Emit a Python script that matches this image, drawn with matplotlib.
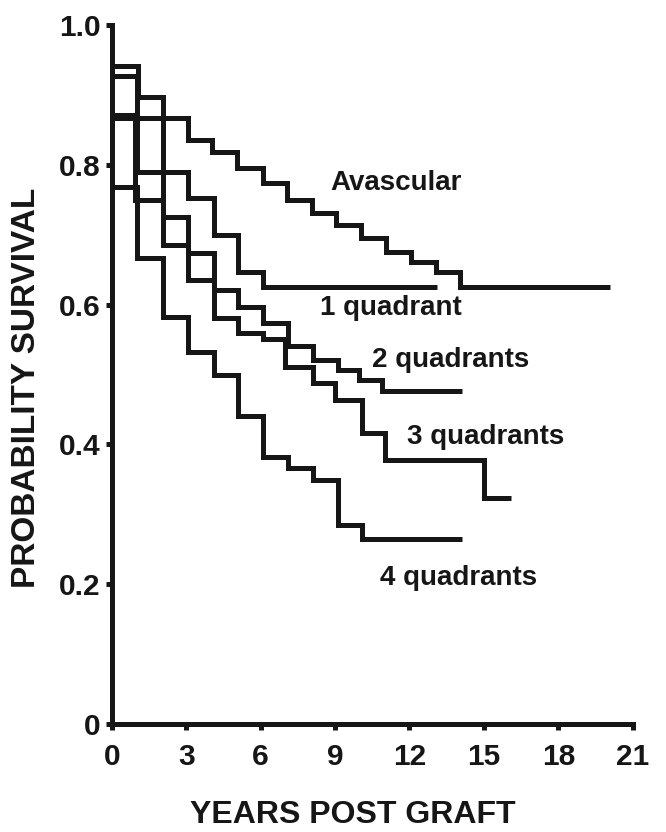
import matplotlib.pyplot as plt

plt.rcParams['font.family'] = ['Liberation Sans', 'DejaVu Sans']
plt.rcParams['font.weight'] = 'bold'

INK = '#161616'

# step curves: times of each drop (first point is the start at t=0) and survival after it
avascular_t = [0, 0, 1.05, 2.05, 3.05, 4.05, 5.05, 6.1, 7.05, 8.05, 9.05, 10.05, 11.05, 12.05, 13.05, 14.05, 20.1]
avascular_p = [1.0, 0.941, 0.897, 0.867, 0.836, 0.818, 0.795, 0.774, 0.75, 0.731, 0.714, 0.695, 0.675, 0.661, 0.647, 0.625, 0.625]

q1_t = [0, 0, 1.0, 3.05, 4.1, 5.1, 6.1, 13.1]
q1_p = [1.0, 0.927, 0.79, 0.752, 0.70, 0.647, 0.625, 0.625]

q2_t = [0, 0, 2.05, 3.05, 4.1, 5.1, 6.1, 7.1, 8.1, 9.1, 9.95, 10.9, 14.1]
q2_p = [1.0, 0.867, 0.725, 0.674, 0.621, 0.597, 0.573, 0.54, 0.521, 0.506, 0.492, 0.476, 0.476]

q3_t = [0, 0, 0.95, 2.05, 3.05, 4.1, 5.1, 6.1, 7.0, 8.1, 9.0, 10.1, 11.0, 15.0, 16.1]
q3_p = [1.0, 0.871, 0.75, 0.685, 0.635, 0.581, 0.559, 0.55, 0.511, 0.488, 0.463, 0.416, 0.378, 0.323, 0.323]

q4_t = [0, 0, 1.0, 2.05, 3.05, 4.1, 5.1, 6.1, 7.1, 8.1, 9.1, 10.1, 14.1]
q4_p = [1.0, 0.768, 0.667, 0.582, 0.532, 0.499, 0.44, 0.382, 0.366, 0.349, 0.285, 0.265, 0.265]

curves = [
    (avascular_t, avascular_p, 'Avascular', 8.8, 0.774),
    (q1_t, q1_p, '1 quadrant', 8.4, 0.595),
    (q2_t, q2_p, '2 quadrants', 10.5, 0.52),
    (q3_t, q3_p, '3 quadrants', 11.9, 0.41),
    (q4_t, q4_p, '4 quadrants', 10.8, 0.209),
]

x_ticks = [0, 3, 6, 9, 12, 15, 18, 21]
y_ticks = [0, 0.2, 0.4, 0.6, 0.8, 1.0]
y_tick_labels = ['0', '0.2', '0.4', '0.6', '0.8', '1.0']

fig = plt.figure(figsize=(6.66, 8.32), dpi=100)
ax = fig.add_axes([0.168, 0.13, 0.782, 0.84])

for t, p, name, lx, ly in curves:
    ax.plot(t, p, drawstyle='steps-post', color=INK, lw=3.6, clip_on=False,
            solid_joinstyle='miter', solid_capstyle='butt')
    ax.text(lx, ly, name, fontsize=20, fontweight='bold', color=INK, ha='left', va='center')

ax.set_xlim(0, 21)
ax.set_ylim(0, 1)
ax.set_xticks(x_ticks)
ax.set_yticks(y_ticks)
ax.set_yticklabels(y_tick_labels)

for side in ['top', 'right']:
    ax.spines[side].set_visible(False)
for side in ['left', 'bottom']:
    ax.spines[side].set_linewidth(3.6)
    ax.spines[side].set_color(INK)

ax.tick_params(axis='both', direction='out', length=4, width=3.6, color=INK,
               labelsize=21.5, labelcolor=INK)
ax.tick_params(axis='x', pad=10)
ax.tick_params(axis='y', pad=4)
for lab in ax.get_xticklabels() + ax.get_yticklabels():
    lab.set_fontweight('bold')

fig.text(353 / 666, 1 - 815 / 832, 'YEARS POST GRAFT', fontsize=23, fontweight='bold',
         color=INK, ha='center', va='center')
fig.text(27 / 666, 1 - 388 / 832, 'PROBABILITY SURVIVAL', fontsize=24, fontweight='bold',
         color=INK, ha='center', va='center', rotation=90)

fig.savefig('out.png', dpi=100)
